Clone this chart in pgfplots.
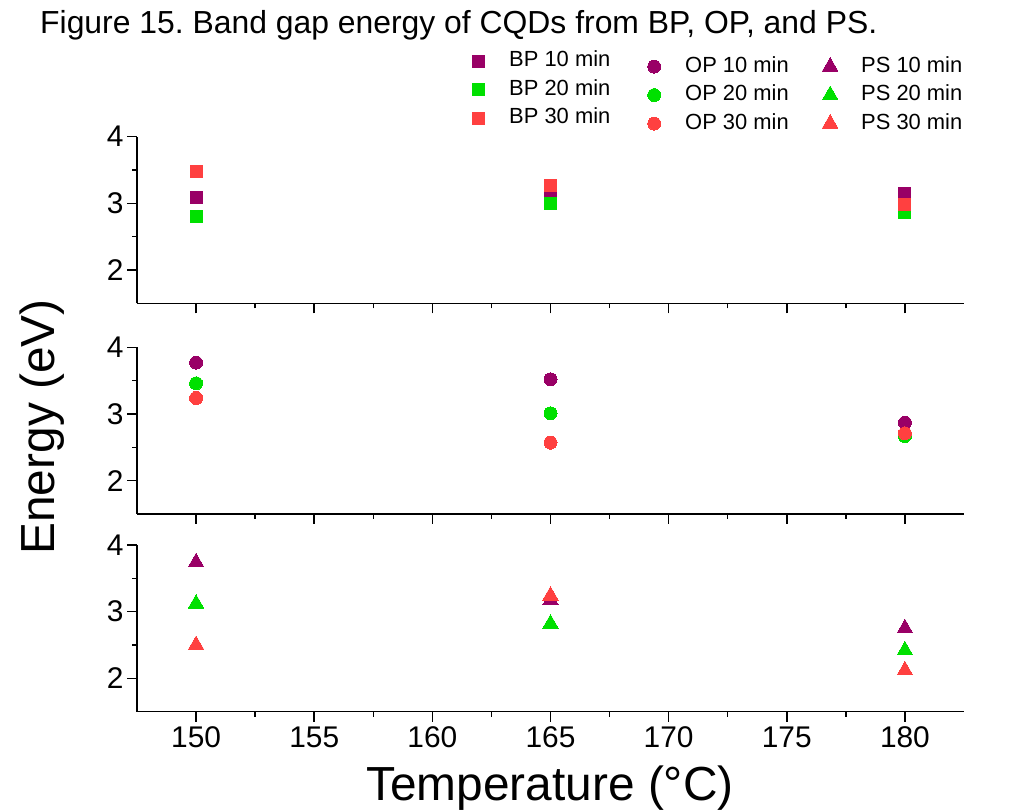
\documentclass[border=0pt]{standalone}
\usepackage{fontspec}
\setmainfont{Liberation Sans}
\usepackage{pgfplots}
\pgfplotsset{compat=1.18}
\definecolor{cpur}{RGB}{153,0,102}
\definecolor{cgrn}{RGB}{0,224,0}
\definecolor{cred}{RGB}{255,64,64}
\pgfplotsset{
  panel/.style={
    scale only axis, width=827bp, height=166.7bp,
    xmin=147.5, xmax=182.5, ymin=1.5, ymax=4,
    axis lines*=left,
    xtick={150,155,...,180}, minor x tick num=1,
    ytick={2,3,4}, minor y tick num=1,
    tick align=outside,
    major tick length=10bp, minor tick length=5bp,
    axis line style={line width=1.5bp, black},
    every tick/.style={line width=1.5bp, black},
    tick label style={font=\fontsize{30}{30}\selectfont},
    x tick label style={text height=22bp},
    /pgf/number format/assume math mode=true,
    clip=false,
    legend image code/.code={\path[draw=none,fill=none] (0bp,0bp) -- (38bp,0bp);\draw[only marks,mark repeat=2,mark phase=2] plot coordinates {(0bp,0bp)(8bp,0bp)(38bp,0bp)};},
    legend style={draw=none, fill=none, inner sep=0pt, anchor=west,
      font=\fontsize{22}{22}\selectfont,
      nodes={inner sep=1bp, text height=16bp, text depth=5bp},
      row sep=5.5bp},
    legend cell align=left,
  },
  sq/.style={only marks, color=#1, mark=square*, mark size=6bp, mark options={solid, fill=#1, draw=#1, line width=0pt}},
  ci/.style={only marks, color=#1, mark=*, mark size=6.5bp, mark options={solid, fill=#1, draw=#1, line width=0pt}},
  tr/.style={only marks, color=#1, mark=triangle*, mark size=9bp, mark options={solid, fill=#1, draw=#1, line width=0pt}},
}
\begin{document}
\frenchspacing
\begin{tikzpicture}
\useasboundingbox (0,0) rectangle (1009bp,811bp);
\node[anchor=base west, font=\fontsize{32}{36}\selectfont, inner sep=0pt] at (40bp,777bp) {Figure 15. Band gap energy of CQDs from BP, OP, and PS.};
\node[rotate=90, anchor=center, font=\fontsize{48}{52}\selectfont, inner sep=0pt] at (42bp,384bp) {Energy (eV)};
\node[anchor=base, font=\fontsize{48}{50}\selectfont, inner sep=0pt] at (550bp,11bp) {Temperature (°C)};

% Panel 1: BP
\begin{axis}[panel, at={(137bp,507.7bp)}, anchor=south west, xticklabels={},
  legend style={at={(0.4027,1.280)}}]
\addplot[sq=cpur] coordinates {(150,3.09) (165,3.14) (180,3.15)};
\addplot[sq=cgrn] coordinates {(150,2.80) (165,3.00) (180,2.86)};
\addplot[sq=cred] coordinates {(150,3.48) (165,3.26) (180,2.975)};
\legend{BP 10 min, BP 20 min, BP 30 min}
\end{axis}

% Panel 2: OP
\begin{axis}[panel, at={(137bp,297bp)}, anchor=south west, xticklabels={},
  legend style={at={(0.6155,2.513)}}]
\addplot[ci=cpur] coordinates {(150,3.77) (165,3.52) (180,2.87)};
\addplot[ci=cgrn] coordinates {(150,3.46) (165,3.01) (180,2.67)};
\addplot[ci=cred] coordinates {(150,3.24) (165,2.57) (180,2.71)};
\legend{OP 10 min, OP 20 min, OP 30 min}
\end{axis}

% Panel 3: PS
\begin{axis}[panel, at={(137bp,99.3bp)}, anchor=south west,
  legend style={at={(0.8283,3.699)}}]
\addplot[tr=cpur] coordinates {(150,3.74) (165,3.17) (180,2.75)};
\addplot[tr=cgrn] coordinates {(150,3.12) (165,2.82) (180,2.42)};
\addplot[tr=cred] coordinates {(150,2.50) (165,3.24) (180,2.12)};
\legend{PS 10 min, PS 20 min, PS 30 min}
\end{axis}
\end{tikzpicture}
\end{document}
